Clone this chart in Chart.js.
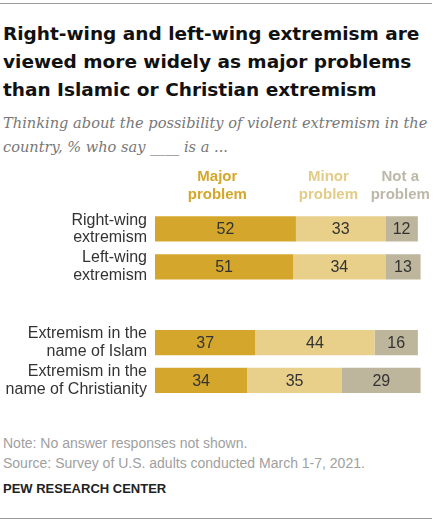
<!DOCTYPE html>
<html>
<head>
<meta charset="utf-8">
<script src="https://cdn.jsdelivr.net/npm/chart.js@4"></script>
<style>
  body { margin: 0; background: #fff; width: 435px; height: 522px; position: relative; overflow: hidden; font-family: "Liberation Sans", Arial, sans-serif; }
  .rule { position: absolute; left: 0; width: 432px; height: 1px; background: #9a9a9a; }
  .title { position: absolute; left: 3px; top: 20px; width: 432px; white-space: nowrap; font-weight: bold; font-size: 18.5px; line-height: 28px; color: #111; font-family: "DejaVu Sans", sans-serif; }
  .sub { position: absolute; left: 3px; top: 111px; width: 432px; white-space: nowrap; font-style: italic; font-size: 14.6px; line-height: 24px; color: #777; font-family: "DejaVu Serif", serif; }
  .note { position: absolute; left: 3px; top: 433px; font-size: 14px; line-height: 20px; color: #a0a0a0; }
  .pew { position: absolute; left: 3px; top: 481px; font-size: 13px; font-weight: bold; color: #222; }
  #wrap { position: absolute; left: 0; top: 160px; width: 435px; height: 265px; }
</style>
</head>
<body>
<div class="rule" style="top:3px"></div>
<div class="title">Right-wing and left-wing extremism are<br>viewed more widely as major problems<br>than Islamic or Christian extremism</div>
<div class="sub">Thinking about the possibility of violent extremism in the<br>country, % who say ____ is a ...</div>
<div id="wrap"><canvas id="chart"></canvas></div>
<div class="note">Note: No answer responses not shown.<br>Source: Survey of U.S. adults conducted March 1-7, 2021.</div>
<div class="pew">PEW RESEARCH CENTER</div>
<div class="rule" style="top:518px"></div>
<script>
// categories (blank entry makes the gap between the two groups)
const categories = [
  ['Right-wing', 'extremism'],
  ['Left-wing', 'extremism'],
  '',
  ['Extremism in the', 'name of Islam'],
  ['Extremism in the', 'name of Christianity']
]
const seriesNames = ['Major problem', 'Minor problem', 'Not a problem']
const majorProblem = [52, 51, null, 37, 34]
const minorProblem = [33, 34, null, 44, 35]
const notAProblem = [12, 13, null, 16, 29]

const colors = ['#d4a72c', '#e8cf8a', '#bdb59c']
const headColors = ['#d4a72c', '#e3cc88', '#bcb8a8']

// writes the number in the middle of each segment
const valueLabels = {
  id: 'valueLabels',
  afterDatasetsDraw(chart) {
    const ctx = chart.ctx
    ctx.save()
    ctx.font = '16px "Liberation Sans", Arial, sans-serif'
    ctx.fillStyle = '#333'
    ctx.textAlign = 'center'
    ctx.textBaseline = 'middle'
    chart.data.datasets.forEach((ds, di) => {
      chart.getDatasetMeta(di).data.forEach((bar, i) => {
        if (ds.data[i] == null) return
        const mid = (bar.x + bar.base) / 2
        ctx.fillText(ds.data[i], mid, bar.y + 1)
      })
    })
    ctx.restore()
  }
}

// column headers above the bars
const headers = {
  id: 'headers',
  afterDraw(chart, args, opts) {
    const ctx = chart.ctx
    const x = chart.scales.x
    ctx.save()
    ctx.font = 'bold 15px "Liberation Sans", Arial, sans-serif'
    ctx.textAlign = 'center'
    ctx.textBaseline = 'middle'
    seriesNames.forEach((name, i) => {
      const words = name.split(' ')
      const first = words.slice(0, words.length - 1).join(' ')
      const px = x.getPixelForValue(opts.at[i])
      ctx.fillStyle = headColors[i]
      ctx.fillText(first, px, 17)
      ctx.fillText(words[words.length - 1], px, 35)
    })
    ctx.restore()
  }
}

new Chart(document.getElementById('chart'), {
  type: 'bar',
  data: {
    labels: categories,
    datasets: [
      { label: seriesNames[0], data: majorProblem, backgroundColor: colors[0] },
      { label: seriesNames[1], data: minorProblem, backgroundColor: colors[1] },
      { label: seriesNames[2], data: notAProblem, backgroundColor: colors[2] }
    ]
  },
  options: {
    indexAxis: 'y',
    responsive: true,
    maintainAspectRatio: false,
    animation: false,
    datasets: {
      bar: { categoryPercentage: 1, barPercentage: 0.667, borderWidth: 0 }
    },
    layout: { padding: { top: 50, bottom: 5, left: 0, right: 9 } },
    scales: {
      x: { stacked: true, min: 0, max: 100, display: false },
      y: {
        stacked: true,
        grid: { display: false, drawTicks: false },
        border: { display: false },
        ticks: {
          color: '#333',
          padding: 8,
          font: { size: 16, family: '"Liberation Sans", Arial, sans-serif', lineHeight: 1.1 }
        },
        afterFit(scale) { scale.width = 155 }
      }
    },
    plugins: {
      legend: { display: false },
      tooltip: { enabled: false },
      headers: { at: [23, 64, 90.5] }
    }
  },
  plugins: [valueLabels, headers]
})
</script>
</body>
</html>
